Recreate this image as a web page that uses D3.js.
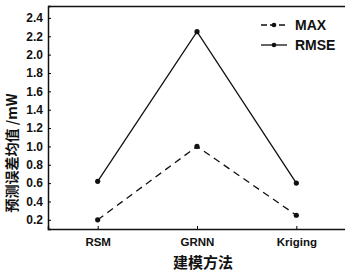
<!DOCTYPE html>
<html>
<head>
<meta charset="utf-8">
<script src="https://cdn.jsdelivr.net/npm/d3@7"></script>
<style>
  body { margin: 0; background: #fff; }
  text { font-family: "Liberation Sans", Arial, sans-serif; font-weight: bold; fill: #111; }
</style>
</head>
<body>
<script>
// data
const methods = ["RSM", "GRNN", "Kriging"];
const maxValues = [0.20, 1.00, 0.25];
const rmseValues = [0.62, 2.25, 0.60];
const yTicks = [0.2, 0.4, 0.6, 0.8, 1.0, 1.2, 1.4, 1.6, 1.8, 2.0, 2.2, 2.4];
const seriesNames = ["MAX", "RMSE"];

const width = 345, height = 272;
const marginTop = 6, marginRight = -1, marginBottom = 43, marginLeft = 48;

const svg = d3.select("body").append("svg")
    .attr("width", width)
    .attr("height", height);

const x = d3.scalePoint()
    .domain(methods)
    .range([marginLeft, width - marginRight])
    .padding(0.5);

const y = d3.scaleLinear()
    .domain([0.1, 2.53])
    .range([height - marginBottom, marginTop]);

// frame top line
svg.append("line")
    .attr("x1", marginLeft).attr("x2", width)
    .attr("y1", marginTop + 0.5).attr("y2", marginTop + 0.5)
    .attr("stroke", "#111").attr("stroke-width", 1.3);

// y axis
const yAxis = svg.append("g")
    .attr("transform", "translate(" + marginLeft + ",0)")
    .call(d3.axisLeft(y).tickValues(yTicks).tickSize(-3).tickPadding(5).tickFormat(d3.format(".1f")));
yAxis.select(".domain").attr("stroke", "#111").attr("stroke-width", 1.5);
yAxis.selectAll("text").style("font-size", "12px").attr("fill", "#111");

// x axis
const xAxis = svg.append("g")
    .attr("transform", "translate(0," + (height - marginBottom) + ")")
    .call(d3.axisBottom(x).tickSize(-3).tickPadding(9));
xAxis.select(".domain").attr("stroke", "#111").attr("stroke-width", 1.5);
xAxis.selectAll("text").style("font-size", "11.5px").attr("fill", "#111");

// axis titles
svg.append("text")
    .attr("x", 203).attr("y", 268)
    .attr("text-anchor", "middle")
    .style("font-size", "15px")
    .style("font-family", "'Noto Sans CJK SC', sans-serif")
    .text("建模方法");

svg.append("text")
    .attr("transform", "translate(12,153) rotate(-90)")
    .attr("text-anchor", "middle")
    .attr("dy", "0.36em")
    .style("font-size", "14px")
    .style("font-family", "'Noto Sans CJK SC', sans-serif")
    .text("预测误差均值 /mW");

// lines
const line = d3.line()
    .x((d, i) => x(methods[i]))
    .y(d => y(d));

const series = [
    { name: seriesNames[0], values: maxValues, dash: "7,5" },
    { name: seriesNames[1], values: rmseValues, dash: null }
];

series.forEach(s => {
    svg.append("path")
        .datum(s.values)
        .attr("fill", "none")
        .attr("stroke", "#111")
        .attr("stroke-width", 1.3)
        .attr("stroke-dasharray", s.dash)
        .attr("d", line);
    svg.selectAll(null)
        .data(s.values)
        .join("circle")
        .attr("cx", (d, i) => x(methods[i]))
        .attr("cy", d => y(d))
        .attr("r", 2.6)
        .attr("fill", "#111");
});

// legend
const legend = svg.append("g").attr("transform", "translate(261,25)");
series.forEach((s, i) => {
    const g = legend.append("g").attr("transform", "translate(0," + (i * 20) + ")");
    g.append("line")
        .attr("x1", 0).attr("x2", 26)
        .attr("stroke", "#111").attr("stroke-width", 1.3)
        .attr("stroke-dasharray", s.dash ? "6,3" : null);
    g.append("circle").attr("cx", 13).attr("r", 2.3).attr("fill", "#111");
    g.append("text")
        .attr("x", 34).attr("dy", "0.36em")
        .style("font-size", "14px")
        .text(s.name);
});
</script>
</body>
</html>
